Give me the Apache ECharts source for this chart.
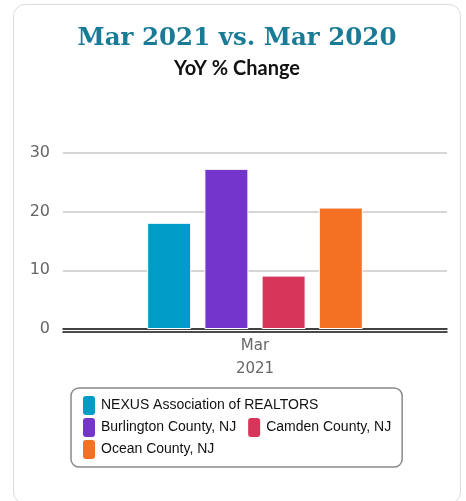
<!DOCTYPE html>
<html><head><meta charset="utf-8">
<script src="https://cdn.jsdelivr.net/npm/echarts@6/dist/echarts.min.js"></script>
<style>
html,body{margin:0;padding:0;background:#fff;width:466px;height:501px;overflow:hidden;}
#card{position:absolute;left:13px;top:4px;width:448px;height:500px;border:1px solid #dcdcdc;border-radius:12px;box-sizing:border-box;}
#chart{position:absolute;left:0;top:0;width:466px;height:501px;}
</style></head>
<body>
<div id="card"></div>
<div id="chart"></div>
<script>
const categories = ['Mar\n2021'];
const seriesNames = ['NEXUS Association of REALTORS','Burlington County, NJ','Camden County, NJ','Ocean County, NJ'];
const nexus = [18.1];
const burlington = [27.3];
const camden = [9.1];
const ocean = [20.7];
const yTicks = [0, 10, 20, 30];
const colors = ['#009bc6','#7335cc','#d7365a','#f47124'];
const values = [nexus, burlington, camden, ocean];

const chart = echarts.init(document.getElementById('chart'), null, {renderer:'canvas'});
chart.setOption({
  animation:false,
  title:[
    {text:'Mar 2021 vs. Mar 2020', left:232, textAlign:'center', top:21, textStyle:{fontFamily:'DejaVu Serif', fontWeight:'bold', fontSize:24.5, color:'#1a7b97'}},
    {text:'YoY % Change', left:232, textAlign:'center', top:54, textStyle:{fontFamily:'Lato', fontWeight:'bold', fontSize:20, color:'#111'}}
  ],
  grid:{left:63, right:19, top:153, bottom:172, containLabel:false, outerBoundsMode:'none'},
  legend:{
    data:seriesNames.map((n,i)=>({name:n, icon:'path://M3,0 H9 A3,3 0 0 1 12,3 V16 A3,3 0 0 1 9,19 H3 A3,3 0 0 1 0,16 V3 A3,3 0 0 1 3,0 Z'})),
    orient:'horizontal', left:71, top:388, width:324,
    itemWidth:12, itemHeight:19, itemGap:3,
    itemStyle:{borderWidth:0},
    padding:[8,2,8,12],
    borderColor:'#8a8a8a', borderWidth:1.5, borderRadius:8,
    textStyle:{fontFamily:'Liberation Sans', fontSize:14, lineHeight:16, color:'#111', padding:[3,9,0,1]},
    selectedMode:false
  },
  xAxis:[
    {type:'category', data:categories, axisTick:{show:false},
     axisLine:{show:true, lineStyle:{color:'#111', width:1.5}},
     axisLabel:{fontFamily:'DejaVu Sans', fontSize:15, color:'#666', lineHeight:23, margin:6}},
    {type:'category', data:categories, position:'bottom', offset:3, axisTick:{show:false},
     axisLine:{show:true, lineStyle:{color:'#111', width:1.5}}, axisLabel:{show:false}}
  ],
  yAxis:{type:'value', min:0, max:30, interval:10,
    axisLine:{show:false}, axisTick:{show:false},
    splitLine:{lineStyle:{color:'#c8c8c8', width:1.5}},
    axisLabel:{fontFamily:'DejaVu Sans', fontSize:16, color:'#666', margin:13, formatter:v=>yTicks.includes(v)?String(v):''}},
  series:seriesNames.map((n,i)=>({
    name:n, type:'bar', data:values[i], barWidth:44, barGap:'30%',
    itemStyle:{color:colors[i], borderColor:'#fff', borderWidth:1}
  })),
  color:colors
});
</script>
</body></html>
